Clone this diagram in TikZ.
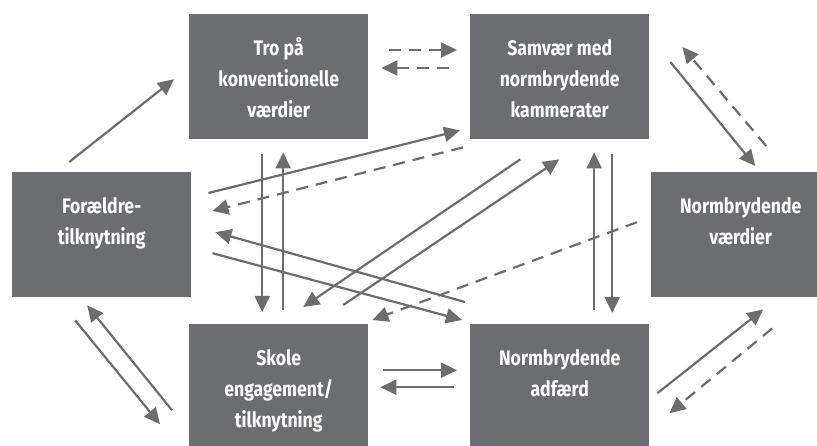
\documentclass[tikz,border=0pt]{standalone}
\usepackage{fontspec}
\newfontfamily\boxfont[FakeStretch=0.84]{Fira Sans}
\usetikzlibrary{arrows.meta}
\definecolor{boxgray}{RGB}{108,109,113}
% Text of a box, top aligned
\newcommand{\boxtext}[1]{\parbox[b][125pt][t]{179pt}{\centering
  \boxfont\bfseries\fontsize{21}{31}\selectfont\rule{0pt}{41.5pt}#1}}

\begin{document}
\begin{tikzpicture}[x=1pt,y=-1pt,
  box/.style={fill=boxgray,text=white,inner sep=0pt,anchor=north west},
  arr/.style={draw=boxgray,line width=2.2pt,-{Triangle[length=16pt,width=15pt]}},
  dasharr/.style={arr,dash pattern=on 12pt off 8pt}]
\path[use as bounding box,clip] (0,0) rectangle (817,446);
% The six boxes
\node [box] (tro) at (189,14) {\boxtext{Tro på\\konventionelle\\værdier}};
\node [box] (samvaer) at (470,14) {\boxtext{Samvær med\\normbrydende\\kammerater}};
\node [box] (foraeldre) at (12,172) {\boxtext{Forældre-\\tilknytning}};
\node [box] (vaerdier) at (651,172) {\boxtext{Normbrydende\\værdier}};
\node [box] (skole) at (189,324) {\boxtext{Skole\\engagement/\\tilknytning}};
\node [box] (adfaerd) at (470,324) {\boxtext{Normbrydende\\adfærd}};
% Top row
\draw [arr] ([shift={(-32.5,-10)}]foraeldre.north) -- ([shift={(-15,2.5)}]tro.west);
\draw [dasharr] ([shift={(21,36)}]tro.north east) -- ([shift={(-13,36)}]samvaer.north west);
\draw [dasharr] ([shift={(-21,54)}]samvaer.north west) -- ([shift={(13,54)}]tro.north east);
\draw [arr] ([shift={(21,48)}]samvaer.north east) -- ([shift={(14.5,-6)}]vaerdier.north);
\draw [dasharr] ([shift={(25.5,-26)}]vaerdier.north) -- ([shift={(33,33)}]samvaer.north east);
% Lines across the middle
\draw [arr] ([shift={(17,21)}]foraeldre.north east) -- ([shift={(-10,-9)}]samvaer.south west);
\draw [dasharr] ([shift={(-7,8)}]samvaer.south west) -- ([shift={(21,39)}]foraeldre.north east);
\draw [arr] ([shift={(-16.5,15)}]tro.south) -- ([shift={(-16.5,-12)}]skole.north);
\draw [arr] ([shift={(4.5,-14)}]skole.north) -- ([shift={(4.5,13)}]tro.south);
\draw [arr] ([shift={(-5,-22)}]adfaerd.north west) -- ([shift={(24,-2.5)}]foraeldre.east);
\draw [arr] ([shift={(21,18.5)}]foraeldre.east) -- ([shift={(-8,-4)}]adfaerd.north west);
\draw [arr] ([shift={(-39.5,20)}]samvaer.south) -- ([shift={(24.5,-17)}]skole.north);
\draw [arr] ([shift={(64.5,-19)}]skole.north) -- ([shift={(-0.5,20)}]samvaer.south);
\draw [dasharr] ([shift={(-14,-12.5)}]vaerdier.west) -- ([shift={(4,-4)}]skole.north east);
\draw [arr] ([shift={(52.5,15)}]samvaer.south) -- ([shift={(52.5,-11)}]adfaerd.north);
\draw [arr] ([shift={(34.5,-14)}]adfaerd.north) -- ([shift={(34.5,13)}]samvaer.south);
% Bottom row
\draw [arr] ([shift={(-26.5,23)}]foraeldre.south) -- ([shift={(-29,37.5)}]skole.west);
\draw [arr] ([shift={(-17,23.5)}]skole.west) -- ([shift={(-14.5,8)}]foraeldre.south);
\draw [arr] ([shift={(15,-16.5)}]skole.east) -- ([shift={(-13,-16.5)}]adfaerd.west);
\draw [arr] ([shift={(-16,0.5)}]adfaerd.west) -- ([shift={(12,0.5)}]skole.east);
\draw [arr] ([shift={(8,6.5)}]adfaerd.east) -- ([shift={(22.5,12)}]vaerdier.south);
\draw [dasharr] ([shift={(31.5,31)}]vaerdier.south) -- ([shift={(20,26.5)}]adfaerd.east);
\end{tikzpicture}
\end{document}
